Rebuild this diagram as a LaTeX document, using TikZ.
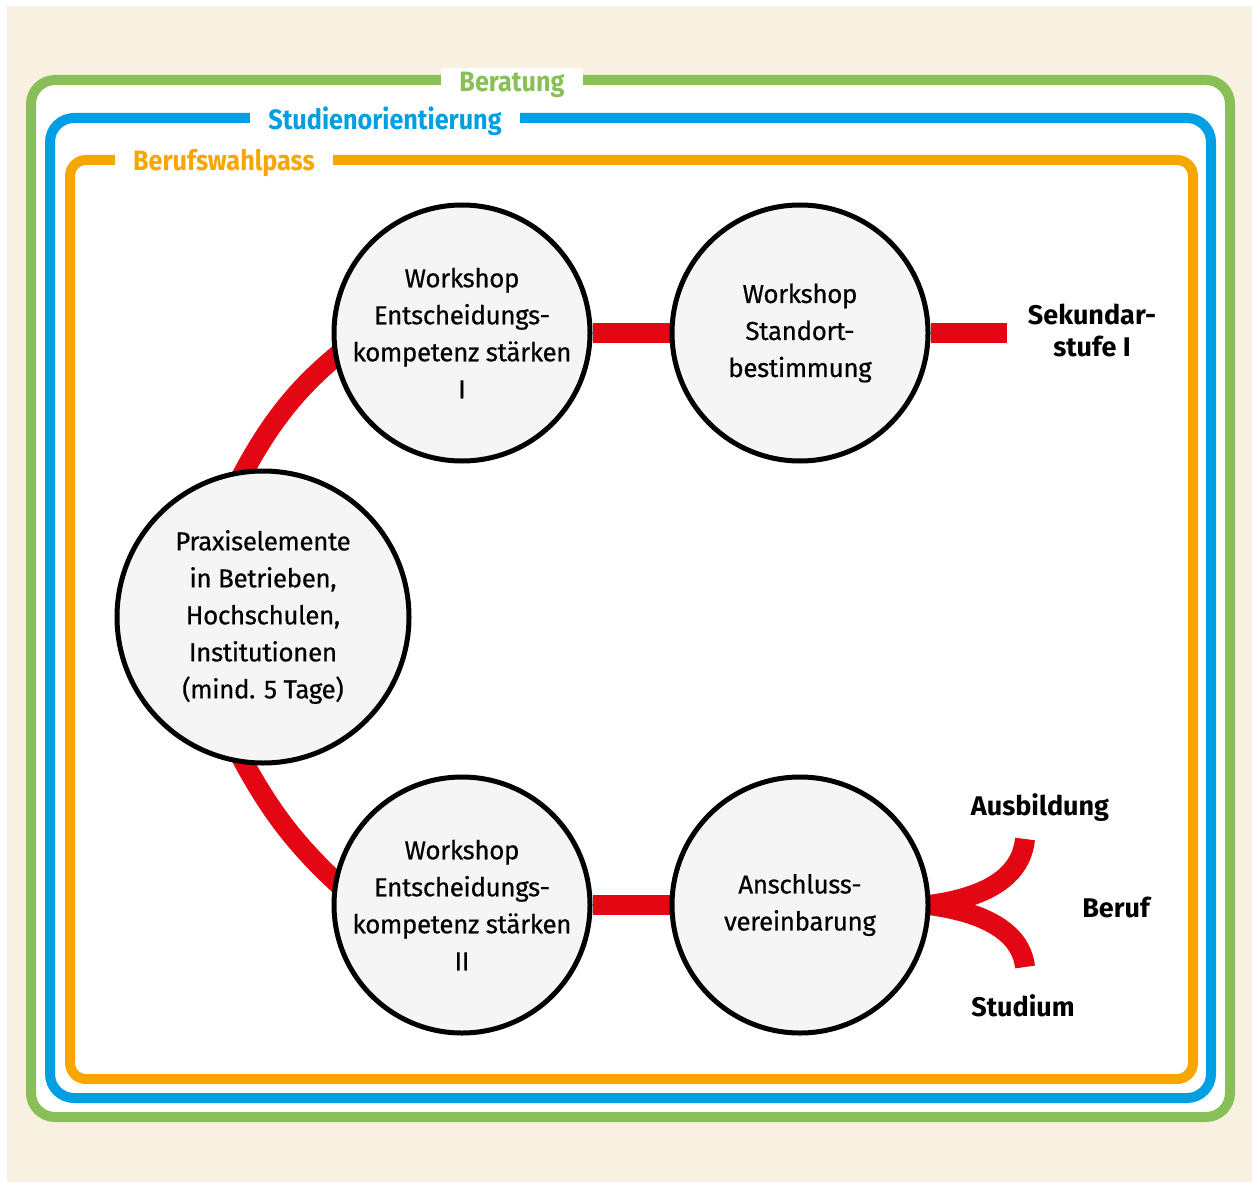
\documentclass[tikz,border=0pt]{standalone}
\usepackage{fontspec}
\setmainfont{Fira Sans}
\newfontfamily\labelfont{Fira Sans}[FakeStretch=0.9]
\newfontfamily\kreisfont{Fira Sans}[FakeBold=0.4, LetterSpace=-1.5]
\usetikzlibrary{backgrounds}

% 颜色
\definecolor{beratung}{RGB}{136,191,87}
\definecolor{studien}{RGB}{0,159,227}
\definecolor{berufswahl}{RGB}{247,166,0}
\definecolor{linie}{RGB}{227,6,19}
\definecolor{papier}{RGB}{248,241,225}
\definecolor{kreisfill}{RGB}{245,245,245}

\tikzset{
  station/.style={circle, draw=black, line width=2.5pt, fill=kreisfill, minimum size=128pt,
    inner sep=0pt, align=center, font=\kreisfont\fontsize{13}{18.5}\selectfont},
  rahmen/.style={line width=5pt, rounded corners=12pt},
  rahmentext/.style={fill=white, inner xsep=9pt, inner ysep=2pt,
    font=\labelfont\bfseries\fontsize{14}{16}\selectfont},
  bahn/.style={draw=linie, line width=10pt},
  ziel/.style={align=center, font=\bfseries\fontsize{13.5}{16}\selectfont},
}

\begin{document}
\begin{tikzpicture}[x=0.5pt, y=-0.5pt]  % 像素坐标, y 向下
    \useasboundingbox (0,0) rectangle (1252,1182);

    % 五个圆圈
    \node[station] (ws1) at (462,333) {Workshop\\Entscheidungs-\\kompetenz stärken\\I};
    \node[station] (ws2) at (800,333) {Workshop\\Standort-\\bestimmung};
    \node[station, minimum size=146pt] (praxis) at (263,617) {Praxiselemente\\in Betrieben,\\Hochschulen,\\Institutionen\\(mind. 5 Tage)};
    \node[station] (ws3) at (462,905) {Workshop\\Entscheidungs-\\kompetenz stärken\\II};
    \node[station] (anschluss) at (800,905) {Anschluss-\\vereinbarung};

    % 右侧标签
    \node[ziel] (sek) at (1092,330) {Sekundar-\\stufe I};
    \node[ziel] (ausb) at (1040,808) {Ausbildung};
    \node[ziel] (beruf) at (1116,907) {Beruf};
    \node[ziel] (stud) at (1023,1006) {Studium};

    % 线的端点
    \coordinate (sekende) at (1007,333); % 上线终点
    \coordinate (gabelo) at (1025,839); % 分叉上端
    \coordinate (gabelu) at (1025,967); % 分叉下端

    \begin{scope}[on background layer]
        % 背景和三个框
        \fill[papier] (7,6) rectangle (1252,1182);
        \filldraw[rahmen, draw=beratung, fill=white] (31,80) rectangle (1230,1117);
        \draw[rahmen, draw=studien] (50,118) rectangle (1211,1098);
        \draw[rahmen, draw=berufswahl, rounded corners=8pt] (70,160) rectangle (1193,1079);

        % 框的标题
        \node[rahmentext, text=beratung] (tberatung) at (512,85) {Beratung};
        \node[rahmentext, text=studien] (tstudien) at (385,121) {Studienorientierung};
        \node[rahmentext, text=berufswahl] (tberufswahl) at (224,163) {Berufswahlpass};

        % 红色路线
        \draw[bahn] (ws1) -- (ws2);
        \draw[bahn] (ws2) -- (sekende);
        \draw[bahn, shorten <=-6pt, shorten >=-6pt] (praxis.97) .. controls (268,426) and (295,389) .. (ws1.191); % 上弧
        \draw[bahn, shorten <=-6pt, shorten >=-6pt] (praxis.-97) .. controls (268,808) and (295,845) .. (ws3.169); % 下弧
        \draw[bahn] (ws3) -- (anschluss);
        \draw[bahn, shorten <=-6pt] (anschluss.east) .. controls (980,900) and (1021,880) .. (gabelo); % 分叉
        \draw[bahn, shorten <=-6pt] (anschluss.east) .. controls (980,910) and (1021,930) .. (gabelu);
    \end{scope}

\end{tikzpicture}
\end{document}
